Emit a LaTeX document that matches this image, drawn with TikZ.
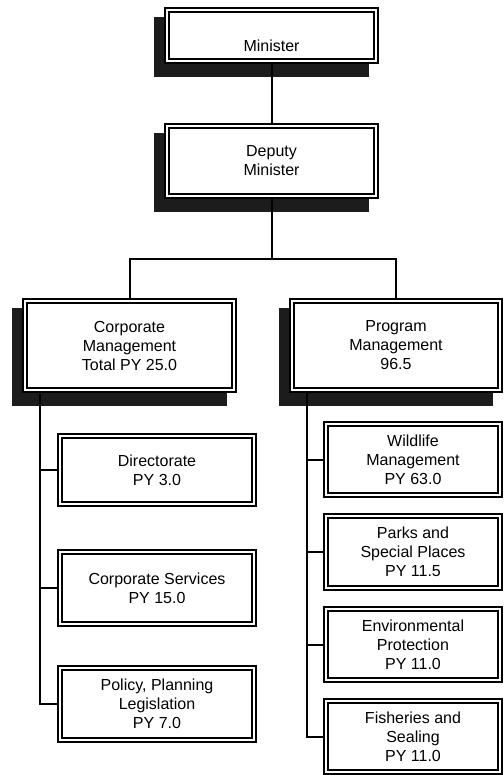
\documentclass[tikz,border=0pt]{standalone}
\usepackage{fontspec}
\setmainfont{Liberation Sans}
\usetikzlibrary{backgrounds}
\definecolor{shadowgray}{HTML}{1C1C1C}
\tikzset{
  orgbox/.style={draw=black, line width=2pt, double=white, double distance=2pt,
    fill=white, inner sep=0pt, outer sep=3pt, align=center,
    font=\fontsize{16}{19}\selectfont},
  boxsize/.style 2 args={minimum width=#1pt-6pt, minimum height=#2pt-6pt},
  link/.style={draw=black, line width=2pt},
}
\begin{document}
\begin{tikzpicture}[x=1pt, y=-1pt]
\useasboundingbox (0,0) rectangle (503,775);

% top of the chart
\node[orgbox, boxsize={215}{57}] (minister) at (271.5,35.5) {\strut\\Minister};
\node[orgbox, boxsize={215}{76}] (deputy) at (271.5,161) {Deputy\\Minister};

% the two branches
\node[orgbox, boxsize={215}{95}] (corporate) at (129.5,345.5) {Corporate\\Management\\Total PY 25.0};
\node[orgbox, boxsize={214}{95}] (program) at (396,345.5) {Program\\Management\\96.5};

% corporate units
\node[orgbox, boxsize={200}{74}] (directorate) at (157,470) {Directorate\\PY 3.0};
\node[orgbox, boxsize={200}{78}] (services) at (157,588) {Corporate Services\\PY 15.0};
\node[orgbox, boxsize={200}{78}] (policy) at (157,704) {Policy, Planning\\Legislation\\PY 7.0};

% program units
\node[orgbox, boxsize={180}{77}] (wildlife) at (413,459.5) {Wildlife\\Management\\PY 63.0};
\node[orgbox, boxsize={180}{78}] (parks) at (413,552) {Parks and\\Special Places\\PY 11.5};
\node[orgbox, boxsize={180}{77}] (environment) at (413,644.5) {Environmental\\Protection\\PY 11.0};
\node[orgbox, boxsize={180}{77}] (fisheries) at (413,736.5) {Fisheries and\\Sealing\\PY 11.0};

\begin{scope}[on background layer]
  % drop shadows of the upper boxes
  \foreach \n in {minister,deputy,corporate,program}
    \fill[shadowgray] ([xshift=-10pt,yshift=-10pt]\n.north west)
      rectangle ([xshift=-10pt,yshift=-13pt]\n.south east);

  % connectors
  \draw[link] (minister.south) -- (deputy.north);
  \coordinate (split) at (deputy.south |- 0,259);
  \draw[link] (deputy.south) -- (split);
  \draw[link] (corporate.north) |- (split) -| (program.north);

  \coordinate (ctrunk) at ([xshift=18pt]corporate.south west);
  \draw[link] (ctrunk) |- (policy.west);
  \draw[link] (ctrunk |- directorate.west) -- (directorate.west);
  \draw[link] (ctrunk |- services.west) -- (services.west);

  \coordinate (ptrunk) at ([xshift=18pt]program.south west);
  \draw[link] (ptrunk) |- (fisheries.west);
  \draw[link] (ptrunk |- wildlife.west) -- (wildlife.west);
  \draw[link] (ptrunk |- parks.west) -- (parks.west);
  \draw[link] (ptrunk |- environment.west) -- (environment.west);
\end{scope}
\end{tikzpicture}
\end{document}
